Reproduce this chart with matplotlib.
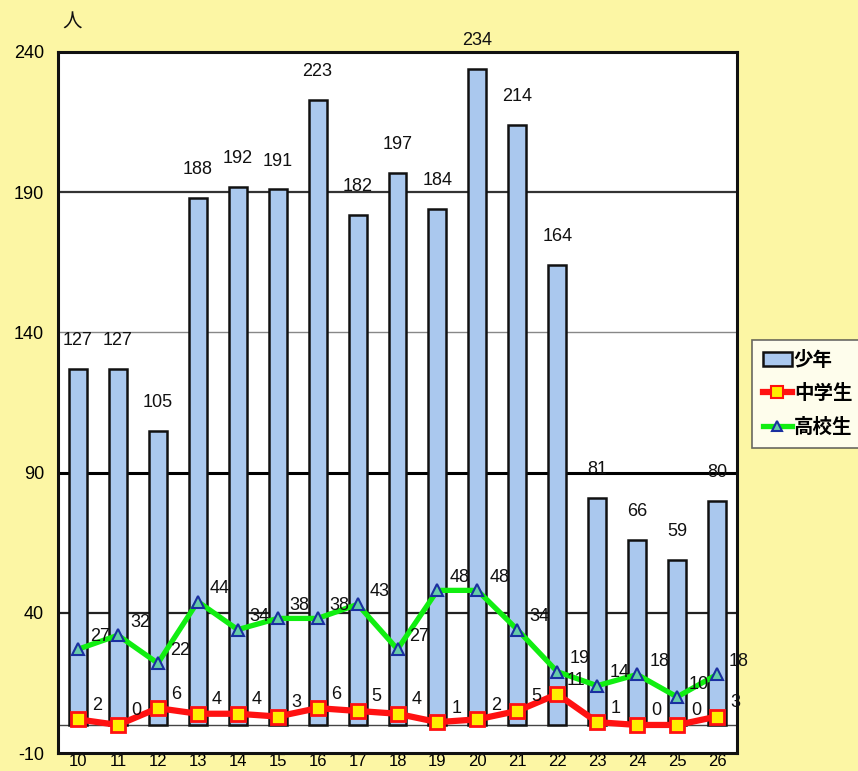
import matplotlib
matplotlib.use("Agg")
import matplotlib.pyplot as plt
from matplotlib.patches import Patch
from matplotlib.lines import Line2D
import numpy as np

plt.rcParams['font.family'] = ['Liberation Sans', 'Noto Sans CJK JP', 'DejaVu Sans']

years = ['10', '11', '12', '13', '14', '15', '16', '17', '18', '19', '20', '21', '22', '23', '24', '25', '26']
shonen = [127, 127, 105, 188, 192, 191, 223, 182, 197, 184, 234, 214, 164, 81, 66, 59, 80]
chugaku = [2, 0, 6, 4, 4, 3, 6, 5, 4, 1, 2, 5, 11, 1, 0, 0, 3]
koko = [27, 32, 22, 44, 34, 38, 38, 43, 27, 48, 48, 34, 19, 14, 18, 10, 18]
yticks = [-10, 40, 90, 140, 190, 240]

bg = '#fcf6a4'
fig = plt.figure(figsize=(8.58, 7.71), dpi=100, facecolor=bg)
ax = fig.add_axes([58/858, 18/771, (737-58)/858, (753-52)/771])
ax.set_facecolor('white')

x = np.arange(len(years))
ax.set_xlim(-0.5, len(years) - 0.5)
ax.set_ylim(-10, 240)

# grid lines
for yv, c, lw in [(190, '#333333', 1.6), (140, '#888888', 1.0), (90, '#000000', 2.2), (40, '#222222', 1.6), (0, '#444444', 1.0)]:
    ax.axhline(yv, color=c, lw=lw, zorder=1)

ax.bar(x, shonen, width=0.45, color='#aac8ee', edgecolor='#111111', linewidth=1.8, zorder=2)

ax.plot(x, koko, color='#11ee11', lw=3.8, marker='^', markersize=8,
        markerfacecolor='#66ccaa', markeredgecolor='#1a2fa0', markeredgewidth=1.5, zorder=4)
ax.plot(x, chugaku, color='#ff1111', lw=4.5, marker='s', markersize=10,
        markerfacecolor='#ffee00', markeredgecolor='#ff1111', markeredgewidth=2, zorder=5)

fs = 13
for xi, v in zip(x, shonen):
    ax.text(xi, v + 7, str(v), ha='center', va='bottom', fontsize=fs, color='#111111', zorder=6, clip_on=False)
for xi, v in zip(x, koko):
    ax.text(xi + 0.3, v + 1.5, str(v), ha='left', va='bottom', fontsize=fs, color='#111111', zorder=6, clip_on=False)
for xi, v in zip(x, chugaku):
    ax.text(xi + 0.47, v + 2, str(v), ha='center', va='bottom', fontsize=fs, color='#111111', zorder=6, clip_on=False)

ax.set_xticks(x)
ax.set_xticklabels(years, fontsize=12)
ax.set_yticks(yticks)
ax.set_yticklabels([str(t) for t in yticks], fontsize=fs)
ax.tick_params(axis='both', length=0)
ax.tick_params(axis='x', pad=1)
ax.tick_params(axis='y', pad=10)
for s in ax.spines.values():
    s.set_color('#111111')
    s.set_linewidth(2.2)

fig.text(62/858, 1 - 22/771, '人', fontsize=14, family=['Noto Sans CJK JP'], ha='left', va='center', color='#111111')

handles = [
    Patch(facecolor='#aac8ee', edgecolor='#111111', linewidth=1.8),
    Line2D([0], [0], color='#ff1111', lw=4.5, marker='s', markersize=8,
           markerfacecolor='#ffee00', markeredgecolor='#ff1111', markeredgewidth=1.5),
    Line2D([0], [0], color='#11ee11', lw=3.8, marker='^', markersize=7,
           markerfacecolor='#66ccaa', markeredgecolor='#1a2fa0', markeredgewidth=1.5),
]
leg = fig.legend(handles, ['少年', '中学生', '高校生'], loc='upper left',
                 bbox_to_anchor=(752/858, 1 - 340/771), frameon=True, fancybox=False,
                 prop={'family': ['Noto Sans CJK JP'], 'weight': 'bold', 'size': 14},
                 handlelength=1.5, handletextpad=0.1, labelspacing=0.75, borderpad=0.55,
                 borderaxespad=0)
leg.get_frame().set_edgecolor('#444444')
leg.get_frame().set_linewidth(1.2)

fig.savefig('out.png', dpi=100, facecolor=bg)
